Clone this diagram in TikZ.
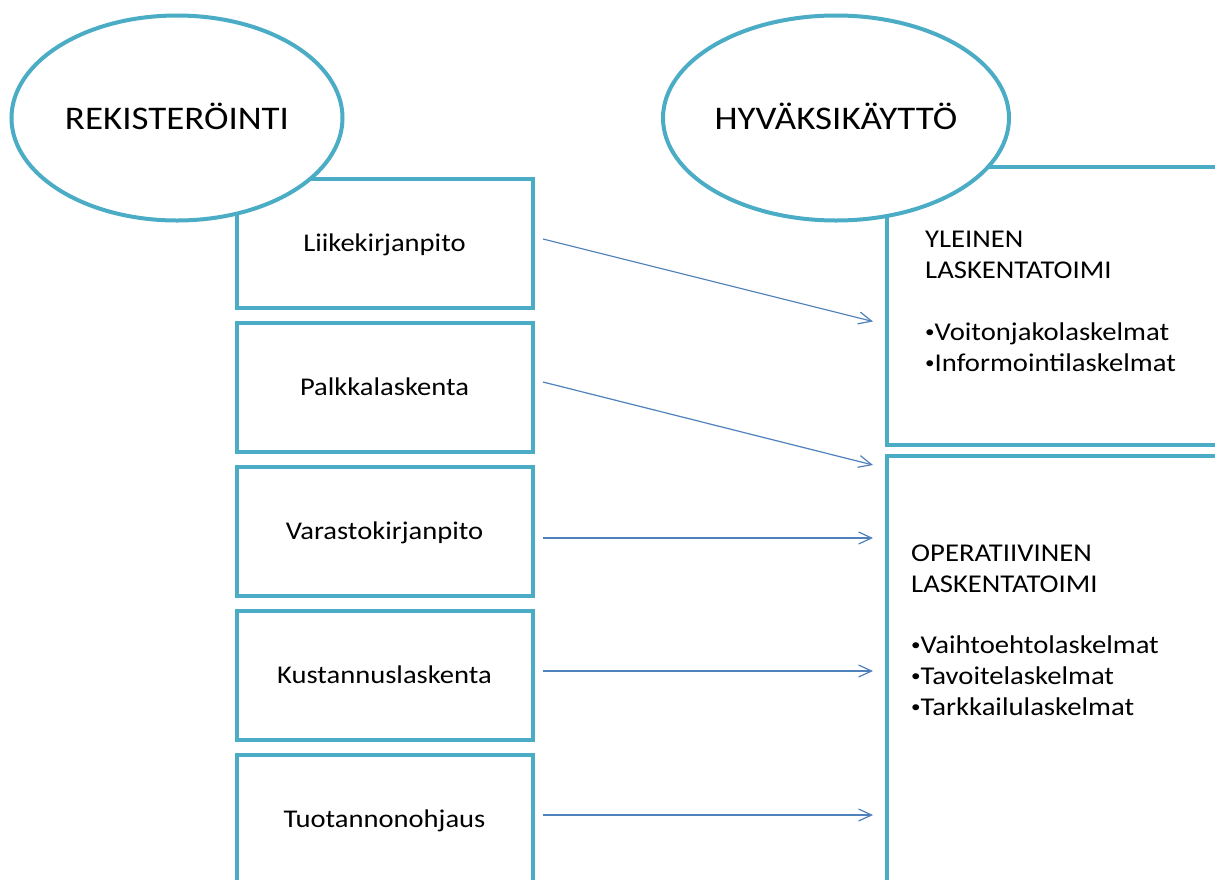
\documentclass[tikz,border=0pt]{standalone}
\usepackage{fontspec}
\setmainfont{Carlito}[FakeStretch=1.12]
\usetikzlibrary{arrows.meta,shapes.geometric}
\definecolor{aqua}{HTML}{4BACC6}
\definecolor{arrowblue}{HTML}{4F81BD}
\newcommand{\smallbul}{\raisebox{3pt}{\fontsize{17}{17}\selectfont•}}
\begin{document}
\begin{tikzpicture}[x=1pt,y=-1pt,
  leftbox/.style={draw=aqua, line width=4pt, fill=white, rectangle, inner sep=0pt,
    minimum width=296pt, minimum height=129.5pt, text height=17pt, text depth=0pt,
    font=\fontsize{25.5}{31}\selectfont},
  rightbox/.style={draw=aqua, line width=4pt, fill=white, rectangle, inner sep=0pt},
  oval/.style={ellipse, draw=aqua, line width=4pt, fill=white, inner sep=0pt,
    text height=22pt, text depth=0pt, font=\fontsize{33}{40}\selectfont},
  bodytext/.style={anchor=base west, align=left, inner sep=0pt,
    font=\fontsize{25.6}{31}\selectfont},
  link/.style={draw=arrowblue, line width=1.2pt, -{Straight Barb[length=13pt,width=12pt]}}]
\useasboundingbox (0,0) rectangle (1215,879);
\clip (0,0) rectangle (1215,879);
\fill[white] (0,0) rectangle (1215,879);

% left column boxes
\node[leftbox] (l1) at (384.5,243.25) {Liikekirjanpito};
\node[leftbox] (l2) at (384.5,387.25) {Palkkalaskenta};
\node[leftbox] (l3) at (384.5,531.25) {Varastokirjanpito};
\node[leftbox] (l4) at (384.5,675.25) {Kustannuslaskenta};
\node[leftbox] (l5) at (384.5,819.25) {Tuotannonohjaus};

% right column boxes
\node[rightbox, minimum width=343.5pt, minimum height=278.3pt] (ra) at (1058.25,305.85) {};
\node[rightbox, minimum width=343.5pt, minimum height=449.3pt] (rb) at (1058.25,680.35) {};

% ellipses
\node[oval, minimum width=331pt, minimum height=205pt] (reg) at (177,118) {REKISTERÖINTI};
\node[oval, minimum width=346pt, minimum height=205pt] (use) at (836,118) {HYVÄKSIKÄYTTÖ};

% texts in right boxes (anchored at the baseline of the last line)
\node[bodytext] (ta) at (925,371) {YLEINEN\\LASKENTATOIMI\\[30.5pt]\smallbul Voitonjakolaskelmat\\\smallbul Informointilaskelmat};
\node[bodytext] (tb) at (911,715.5) {OPERATIIVINEN\\LASKENTATOIMI\\[30.5pt]\smallbul Vaihtoehtolaskelmat\\\smallbul Tavoitelaskelmat\\\smallbul Tarkkailulaskelmat};

% arrow end points
\coordinate (s1) at (543,239);
\coordinate (s2) at (543,382);
\coordinate (s3) at (543,538);
\coordinate (s4) at (543,671);
\coordinate (s5) at (543,815);
\coordinate (t1) at (873,321.5);
\coordinate (t2) at (873,465);
\coordinate (t3) at (873,538);
\coordinate (t4) at (873,671);
\coordinate (t5) at (873,815);

\draw[link] (s1) -- (t1);
\draw[link] (s2) -- (t2);
\draw[link] (s3) -- (t3);
\draw[link] (s4) -- (t4);
\draw[link] (s5) -- (t5);
\end{tikzpicture}
\end{document}
